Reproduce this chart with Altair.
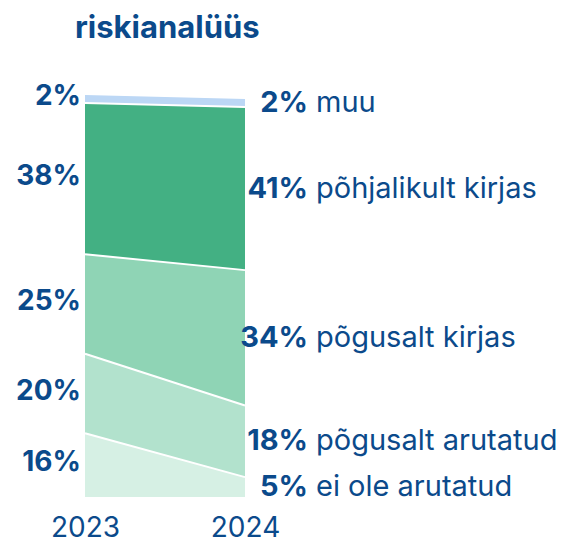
import altair as alt
import pandas as pd

years = ["2023", "2024"]
categories = ["ei ole arutatud", "põgusalt arutatud", "põgusalt kirjas", "põhjalikult kirjas", "muu"]
values_2023 = [16, 20, 25, 38, 2]
values_2024 = [5, 18, 34, 41, 2]
colors = ["#d6f0e4", "#b2e2cd", "#8fd4b5", "#43b083", "#bcd7f5"]
text_color = "#0b4a8b"
font = "Inter"

rows = []
for year, vals in zip(years, [values_2023, values_2024]):
    lo = 0
    for i, (cat, v) in enumerate(zip(categories, vals)):
        rows.append({"year": year, "category": cat, "idx": i, "value": v,
                     "lo": lo, "hi": lo + v, "mid": lo + v / 2, "pct": f"{v}%"})
        lo += v
df = pd.DataFrame(rows)

x = alt.X("year:O", scale=alt.Scale(padding=0),
          axis=alt.Axis(title=None, labelAngle=0, domain=False, ticks=False,
                        labelFontSize=28, labelFont=font, labelColor=text_color,
                        labelPadding=17))
yscale = alt.Scale(domain=[0, 101])

base = alt.Chart(df)

area = base.mark_area(interpolate="linear", opacity=1).encode(
    x=x,
    y=alt.Y("lo:Q", scale=yscale, axis=None),
    y2="hi:Q",
    color=alt.Color("category:N", scale=alt.Scale(domain=categories, range=colors), legend=None),
    detail="category:N",
)

lines = base.transform_filter("datum.idx < 4").mark_line(color="white", strokeWidth=2).encode(
    x=x, y=alt.Y("hi:Q", scale=yscale), detail="category:N"
)

left = base.transform_filter("datum.year == '2023'").mark_text(
    align="right", baseline="middle", dx=-4, dy=-2, fontSize=28, font=font, fontWeight="bold",
    color=text_color
).encode(x=x, y=alt.Y("mid:Q", scale=yscale), text="pct:N")

right_pct = base.transform_filter("datum.year == '2024'").mark_text(
    align="right", baseline="middle", dx=63, fontSize=29, font=font, fontWeight="bold",
    color=text_color
).encode(x=x, y=alt.Y("mid:Q", scale=yscale), text="pct:N")

right_name = base.transform_filter("datum.year == '2024'").mark_text(
    align="left", baseline="middle", dx=71, fontSize=29, font=font, fontWeight="normal",
    color=text_color
).encode(x=x, y=alt.Y("mid:Q", scale=yscale), text="category:N")

chart = alt.layer(area, lines, left, right_pct, right_name).properties(
    width=160, height=402,
    title=alt.TitleParams(text="riskianalüüs", anchor="start", frame="group", dx=-10,
                          offset=14, fontSize=31, font=font, fontWeight="bold",
                          color=text_color, baseline="alphabetic"),
    autosize=alt.AutoSizeParams(type="none"),
    padding={"left": 77, "top": 87, "right": 311, "bottom": 50},
).configure_view(stroke=None)

chart.save("out.html", embed_options={"renderer": "svg", "actions": False})
